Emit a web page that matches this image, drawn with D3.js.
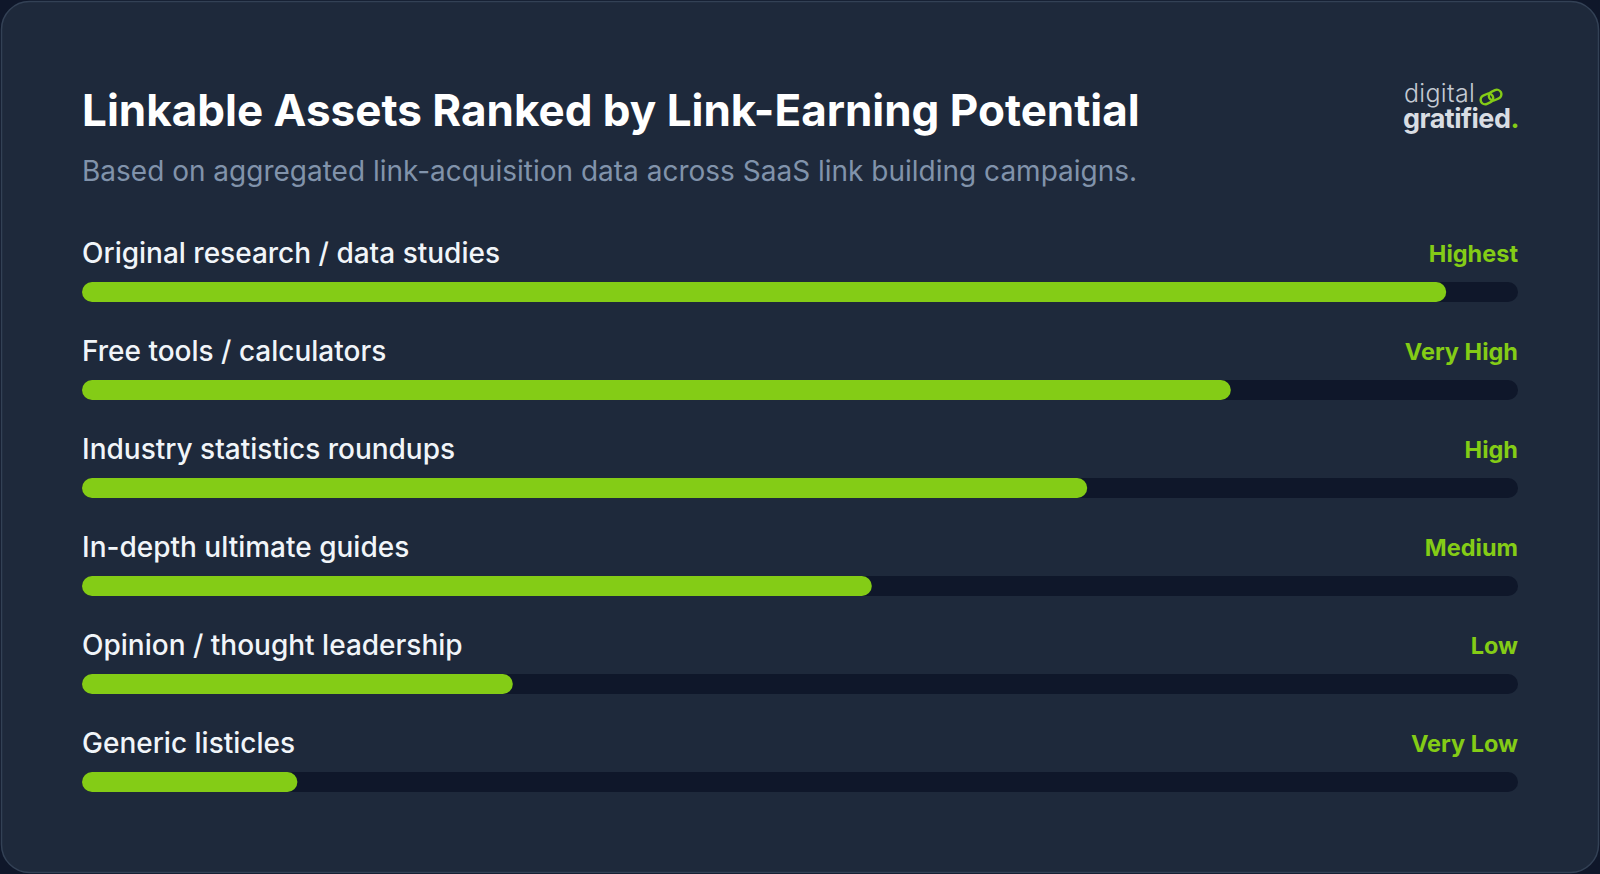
<!DOCTYPE html>
<html>
<head>
<meta charset="utf-8">
<script src="https://cdn.jsdelivr.net/npm/d3@7"></script>
<style>
  html, body { margin: 0; padding: 0; background: #0f172a; }
  svg { display: block; }
  text { font-family: Inter, "Noto Sans", sans-serif; }
</style>
</head>
<body>
<svg id="chart" width="1600" height="874"></svg>
<script>
const title = "Linkable Assets Ranked by Link-Earning Potential";
const subtitle = "Based on aggregated link-acquisition data across SaaS link building campaigns.";
const categories = [
  "Original research / data studies",
  "Free tools / calculators",
  "Industry statistics roundups",
  "In-depth ultimate guides",
  "Opinion / thought leadership",
  "Generic listicles"
];
const values = [95, 80, 70, 55, 30, 15];
const ratings = ["Highest", "Very High", "High", "Medium", "Low", "Very Low"];

const W = 1600, H = 874;
const svg = d3.select("#chart");

// card
svg.append("rect").attr("x", 1.5).attr("y", 1.5).attr("width", W - 3).attr("height", H - 3)
  .attr("rx", 28).attr("fill", "#1e293b").attr("stroke", "#334155").attr("stroke-width", 1.5);

const left = 82, right = 1518;
svg.append("text").attr("x", left).attr("y", 126).attr("fill", "#ffffff")
  .attr("font-size", 44).attr("font-weight", 700).text(title);
svg.append("text").attr("x", left).attr("y", 181).attr("fill", "#8193ab")
  .attr("font-size", 28).attr("font-weight", 400).text(subtitle);

// logo (single text element, two lines)
const logo = svg.append("g");
const lt = logo.append("text").attr("x", 1404).attr("y", 102);
lt.append("tspan").attr("fill", "#c4cad3").attr("font-size", 25).attr("font-weight", 300)
  .attr("letter-spacing", 0.3).text("digital");
lt.append("tspan").attr("x", 1403).attr("dy", 26).attr("fill", "#d9dde3").attr("letter-spacing", -0.5)
  .attr("font-size", 27).attr("font-weight", 700).text("gratified");
lt.append("tspan").attr("fill", "#84cc16").attr("font-size", 27).attr("font-weight", 700).text(".");
const chain = logo.append("g").attr("transform", "translate(1491,97) rotate(-25)")
  .attr("fill", "none").attr("stroke", "#84cc16").attr("stroke-width", 2.4);
chain.append("rect").attr("x", -11).attr("y", -4.5).attr("width", 13).attr("height", 9).attr("rx", 4.5);
chain.append("rect").attr("x", -2).attr("y", -4.5).attr("width", 13).attr("height", 9).attr("rx", 4.5);

// scales
const x = d3.scaleLinear().domain([0, 100]).range([left, right]);
const y = d3.scaleBand().domain(categories).range([236, 824]).paddingInner(0);
const barTop = 46, barH = 20;

const rows = svg.append("g").selectAll("g").data(categories).join("g")
  .attr("transform", d => `translate(0,${y(d)})`);

rows.append("text").attr("x", left).attr("y", 27).attr("fill", "#f1f5f9")
  .attr("font-size", 28).attr("font-weight", 500).text(d => d);
rows.append("text").attr("x", right).attr("y", 26).attr("text-anchor", "end").attr("fill", "#84cc16")
  .attr("font-size", 23.5).attr("font-weight", 700).text((d, i) => ratings[i]);
rows.append("rect").attr("x", x(0)).attr("y", barTop).attr("width", x(100) - x(0)).attr("height", barH)
  .attr("rx", barH / 2).attr("fill", "#0f172a");
rows.append("rect").attr("x", x(0)).attr("y", barTop).attr("width", (d, i) => x(values[i]) - x(0)).attr("height", barH)
  .attr("rx", barH / 2).attr("fill", "#84cc16");
</script>
</body>
</html>
